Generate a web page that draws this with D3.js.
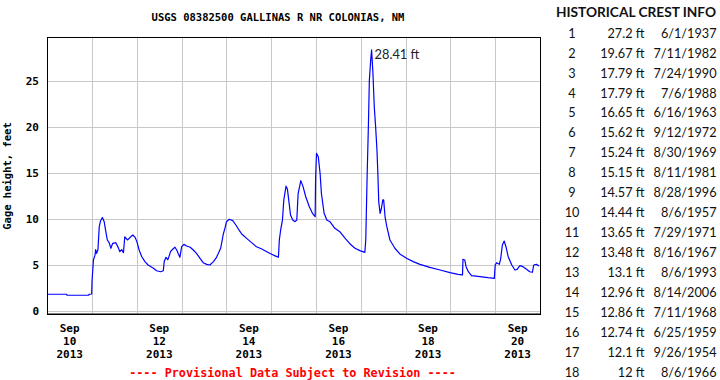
<!DOCTYPE html>
<html><head><meta charset="utf-8">
<script src="https://cdn.jsdelivr.net/npm/d3@7"></script>
<style>
html,body{margin:0;padding:0;background:#fff;}
svg{display:block;}
.mono{font-family:"DejaVu Sans Mono",monospace;font-weight:bold;}
.cal{font-family:Lato,"Open Sans",sans-serif;}
</style></head>
<body>
<svg id="chart" width="720" height="380"></svg>
<script>
// ---- data ----
const title = "USGS 08382500 GALLINAS R NR COLONIAS, NM";
const yLabel = "Gage height, feet";
const footer = "---- Provisional Data Subject to Revision ----";
const startDate = "2013-09-10T00:00:00Z";
// days since start (Sep 10 2013 00:00)
const dayOffsets = [0.00,0.43,0.44,0.92,0.94,0.99,1.00,1.03,1.065,1.08,1.10,1.13,1.16,1.19,1.23,1.27,1.30,1.34,1.38,1.42,1.46,1.53,1.585,1.62,1.66,1.70,1.73,1.79,1.85,1.91,1.96,2.00,2.05,2.11,2.18,2.25,2.37,2.44,2.53,2.59,2.61,2.65,2.69,2.72,2.75,2.80,2.85,2.89,2.92,2.96,3.00,3.05,3.11,3.19,3.26,3.33,3.41,3.48,3.56,3.63,3.71,3.77,3.82,3.87,3.93,3.97,4.00,4.06,4.14,4.21,4.29,4.34,4.45,4.56,4.67,4.79,4.90,5.01,5.10,5.16,5.18,5.21,5.25,5.28,5.33,5.36,5.40,5.43,5.48,5.53,5.57,5.60,5.66,5.71,5.77,5.85,5.92,5.98,5.99,6.01,6.05,6.09,6.12,6.18,6.24,6.31,6.42,6.53,6.65,6.76,6.87,6.98,7.09,7.11,7.14,7.17,7.19,7.22,7.24,7.27,7.30,7.33,7.36,7.38,7.40,7.43,7.46,7.49,7.51,7.54,7.58,7.65,7.76,7.87,8.02,8.17,8.32,8.54,8.77,8.99,9.17,9.27,9.28,9.32,9.35,9.40,9.47,9.66,9.84,9.98,10.00,10.03,10.09,10.12,10.16,10.20,10.24,10.29,10.37,10.44,10.49,10.55,10.62,10.70,10.77,10.83,10.86,10.92,10.98];
const gageHeight = [1.85,1.85,1.74,1.74,1.85,1.88,3.4,5.58,6.1,6.7,6.3,6.66,9.2,9.85,10.2,9.74,8.84,7.75,7.46,6.85,7.39,7.46,6.92,6.48,6.7,6.37,8.1,7.75,8.04,8.29,8.04,7.57,6.66,5.93,5.4,5.03,4.67,4.41,4.3,4.41,5.4,5.87,5.6,6.0,6.48,6.74,6.96,6.66,6.3,5.87,7.02,7.28,7.1,6.96,6.66,6.3,5.76,5.28,5.1,5.03,5.4,5.8,6.3,6.85,8.4,9.1,9.74,10.0,9.85,9.38,8.76,8.4,7.93,7.46,7.02,6.77,6.48,6.2,6.0,5.87,7.75,8.84,9.92,12.1,13.6,13.3,11.7,10.47,9.92,9.74,9.92,12.8,14.2,13.55,12.45,11.37,10.65,10.28,14.46,17.17,16.8,15.0,12.8,10.65,9.92,9.74,9.02,8.65,7.93,7.32,6.85,6.59,6.41,7.75,14.6,20.4,25.1,27.3,28.41,25.9,22.2,20.07,17.5,15.0,11.9,10.65,11.2,12.1,12.1,10.3,9.2,7.75,6.85,6.23,5.76,5.4,5.1,4.78,4.49,4.2,4.02,3.95,5.65,5.58,4.85,4.3,3.87,3.76,3.65,3.58,5.03,5.28,5.1,5.65,7.2,7.64,7.02,5.93,5.03,4.49,4.56,4.96,4.85,4.56,4.3,4.24,5.03,5.1,4.93];
const peakLabel = "28.41 ft";
const yTicks = [0,5,10,15,20,25];
const xTickDays = ["2013-09-10","2013-09-12","2013-09-14","2013-09-16","2013-09-18","2013-09-20"];
const crestTitle = "HISTORICAL CREST INFO";
const crestRank = [1,2,3,4,5,6,7,8,9,10,11,12,13,14,15,16,17,18];
const crestValue = ["27.2","19.67","17.79","17.79","16.65","15.62","15.24","15.15","14.57","14.44","13.65","13.48","13.1","12.96","12.86","12.74","12.1","12"];
const crestDate = ["6/1/1937","7/11/1982","7/24/1990","7/6/1988","6/16/1963","9/12/1972","8/30/1969","8/11/1981","8/28/1996","8/6/1957","7/29/1971","8/16/1967","8/6/1993","8/14/2006","7/11/1968","6/25/1959","9/26/1954","8/6/1966"];

// ---- drawing ----
(function(){
const svg = d3.select("#chart");
const pLeft = 47.3, pRight = 540, pTop = 36.7, pBottom = 313.3;
const t0 = new Date(startDate);
const DAY = 86400000;
const x = d3.scaleUtc().domain([t0, new Date(+t0 + 11*DAY)]).range([pLeft, pRight]);
const y = d3.scaleLinear().domain([-0.22, 29.85]).range([pBottom, pTop]);
const data = dayOffsets.map((d,i)=>({date:new Date(+t0 + d*DAY), v:gageHeight[i]}));

// grid
const g = svg.append("g");
const dayLines = d3.utcDay.range(new Date(+t0+DAY), new Date(+t0+11*DAY));
g.selectAll(".vg").data(dayLines).join("line")
  .attr("x1",d=>Math.round(x(d))+0.5).attr("x2",d=>Math.round(x(d))+0.5)
  .attr("y1",pTop).attr("y2",pBottom).attr("stroke","#c8c8c8").attr("stroke-width",1);
g.selectAll(".hg").data(yTicks).join("line")
  .attr("x1",pLeft).attr("x2",pRight)
  .attr("y1",d=>Math.round(y(d))+0.5).attr("y2",d=>Math.round(y(d))+0.5)
  .attr("stroke","#c8c8c8").attr("stroke-width",1);

// line
const line = d3.line().x(d=>x(d.date)).y(d=>y(d.v));
svg.append("path").datum(data).attr("d",line)
  .attr("fill","none").attr("stroke","#0000ff").attr("stroke-width",1.2).attr("stroke-linejoin","round");

// frame
svg.append("rect").attr("x",Math.round(pLeft)+0.5).attr("y",Math.round(pTop)+0.5)
  .attr("width",Math.round(pRight-pLeft)).attr("height",Math.round(pBottom-pTop))
  .attr("fill","none").attr("stroke","#000").attr("stroke-width",1);
svg.append("line").attr("x1",pLeft).attr("x2",pRight+1).attr("y1",Math.round(pBottom)+1).attr("y2",Math.round(pBottom)+1)
  .attr("stroke","#000").attr("stroke-width",1);

// y axis labels
svg.selectAll(".yt").data(yTicks).join("text").attr("class","mono")
  .attr("x",39).attr("y",d=>y(d)+4).attr("text-anchor","end").attr("font-size","11px").text(d=>d);
// x axis labels (three lines, centered on noon)
const fmtMon = d3.utcFormat("%b"), fmtDay = d3.utcFormat("%d"), fmtYr = d3.utcFormat("%Y");
const xt = svg.selectAll(".xt").data(xTickDays.map(s=>new Date(s+"T12:00:00Z"))).join("text")
  .attr("class","mono").attr("font-size","11px").attr("text-anchor","middle");
xt.append("tspan").attr("x",d=>x(d)).attr("y",332).text(d=>fmtMon(d));
xt.append("tspan").attr("x",d=>x(d)).attr("y",345).text(d=>fmtDay(d));
xt.append("tspan").attr("x",d=>x(d)).attr("y",357.5).text(d=>fmtYr(d));

// title, y label, footer
svg.append("text").attr("class","mono").attr("x",278).attr("y",21).attr("text-anchor","middle")
  .attr("font-size","10.5px").text(title);
svg.append("text").attr("class","mono").attr("transform","translate(11,176) rotate(-90)")
  .attr("text-anchor","middle").attr("font-size","10.5px").text(yLabel);
svg.append("text").attr("class","mono").attr("x",292.5).attr("y",377).attr("text-anchor","middle")
  .attr("font-size","11.8px").attr("fill","#ff0000").text(footer);

// peak annotation
const peak = data.reduce((a,b)=>b.v>a.v?b:a);
svg.append("text").attr("class","cal").attr("x",x(peak.date)+3).attr("y",y(peak.v)+9)
  .attr("font-size","12.8px").attr("fill","#222").text(peakLabel);

// crest table
svg.append("text").attr("class","cal").attr("x",636).attr("y",17).attr("text-anchor","middle")
  .attr("font-weight","bold").attr("font-size","13.7px").attr("fill","#111").text(crestTitle);
const rows = svg.selectAll(".row").data(crestRank).join("g")
  .attr("transform",(d,i)=>`translate(0,${32.7+i*19.94+5})`);
rows.append("text").attr("class","cal").attr("x",572).attr("text-anchor","middle")
  .attr("font-size","12.7px").attr("fill","#111").text(d=>d);
rows.append("text").attr("class","cal").attr("x",644.5).attr("text-anchor","end")
  .attr("font-size","12.7px").attr("fill","#111").text((d,i)=>crestValue[i]+" ft");
rows.append("text").attr("class","cal").attr("x",716.5).attr("text-anchor","end")
  .attr("font-size","12.7px").attr("fill","#111").text((d,i)=>crestDate[i]);
})();
</script>
</body></html>
